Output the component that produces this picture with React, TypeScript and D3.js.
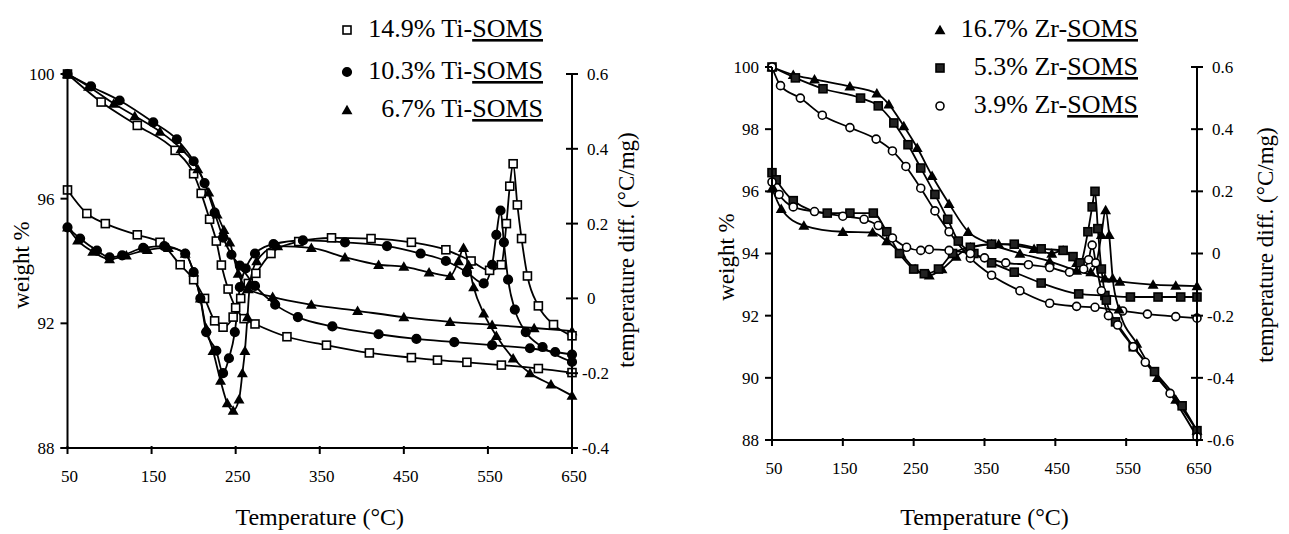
import React, { useRef, useEffect } from 'react';
import * as d3 from 'd3';

// ---- shared axis values ----
const tempTicks = [50, 150, 250, 350, 450, 550, 650];

// ---- Ti-SOMS panel ----
const tiWeightTicks = [100, 96, 92, 88];
const tiDiffTicks = [0.6, 0.4, 0.2, 0, -0.2, -0.4];
const tiLegend = ['14.9% Ti-', '10.3% Ti-', '6.7% Ti-'];

// TGA (weight %)
const ti149TgaT = [50, 90, 133, 178, 200, 209, 219, 227, 233, 241, 250, 260, 273, 311, 358, 409, 459, 490, 525, 566, 610, 650];
const ti149TgaW = [100, 99.1, 98.35, 97.55, 96.8, 96.17, 95.34, 94.64, 93.87, 93.1, 92.5, 92.15, 91.98, 91.57, 91.3, 91.05, 90.9, 90.82, 90.75, 90.66, 90.55, 90.42];
const ti103TgaT = [50, 78, 112, 152, 180, 200, 213, 225, 235, 245, 255, 273, 297, 324, 365, 420, 465, 510, 555, 600, 630, 650];
const ti103TgaW = [100, 99.6, 99.15, 98.45, 97.9, 97.2, 96.5, 95.55, 94.75, 94.2, 93.85, 93.2, 92.6, 92.2, 91.9, 91.65, 91.5, 91.4, 91.3, 91.2, 91.08, 91.0];
const ti67TgaT = [50, 75, 105, 130, 160, 185, 205, 218, 228, 236, 243, 253, 265, 294, 340, 395, 450, 505, 555, 605, 650];
const ti67TgaW = [100, 99.6, 99.05, 98.65, 98.15, 97.6, 96.95, 96.2, 95.5, 95.0, 94.6, 93.6, 93.1, 92.85, 92.6, 92.4, 92.2, 92.05, 91.95, 91.85, 91.75];

// DTA (temperature diff.)
const ti149DtaT = [50, 73, 95, 133, 160, 184, 200, 213, 225, 235, 247, 256, 265, 274, 292, 325, 364, 411, 459, 500, 530, 552, 566, 572, 576, 580, 585, 590, 597, 610, 628, 650];
const ti149DtaD = [0.29, 0.227, 0.2, 0.17, 0.15, 0.09, 0.05, 0.0, -0.06, -0.077, -0.05, 0.0, 0.04, 0.067, 0.12, 0.152, 0.162, 0.16, 0.15, 0.13, 0.1, 0.075, 0.09, 0.2, 0.3, 0.36, 0.25, 0.16, 0.06, -0.02, -0.07, -0.1];
const ti103DtaT = [50, 65, 85, 100, 115, 140, 165, 190, 200, 208, 215, 227, 235, 242, 249, 255, 262, 273, 295, 330, 380, 430, 470, 500, 525, 545, 555, 560, 565, 569, 574, 582, 595, 615, 650];
const ti103DtaD = [0.19, 0.16, 0.128, 0.11, 0.115, 0.135, 0.14, 0.12, 0.07, 0.0, -0.09, -0.14, -0.2, -0.16, -0.09, 0.03, 0.08, 0.12, 0.145, 0.155, 0.15, 0.14, 0.12, 0.1, 0.07, 0.04, 0.09, 0.17, 0.235, 0.15, 0.05, -0.03, -0.09, -0.13, -0.17];
const ti67DtaT = [50, 62, 80, 100, 120, 145, 170, 190, 200, 208, 215, 223, 232, 240, 247, 254, 258, 261, 264, 267, 275, 300, 340, 380, 420, 450, 480, 505, 515, 521, 527, 533, 545, 560, 580, 600, 625, 650];
const ti67DtaD = [0.19, 0.155, 0.125, 0.105, 0.115, 0.13, 0.135, 0.12, 0.07, 0.0, -0.08, -0.14, -0.22, -0.28, -0.3, -0.27, -0.2, -0.14, -0.05, 0.04, 0.1, 0.14, 0.135, 0.11, 0.09, 0.085, 0.07, 0.06, 0.1, 0.135, 0.09, 0.03, -0.04, -0.1, -0.16, -0.2, -0.23, -0.26];

// ---- Zr-SOMS panel ----
const zrWeightTicks = [100, 98, 96, 94, 92, 90, 88];
const zrDiffTicks = [0.6, 0.4, 0.2, 0, -0.2, -0.4, -0.6];
const zrLegend = ['16.7% Zr-', '5.3% Zr-', '3.9% Zr-'];

const zr167TgaT = [50, 80, 110, 160, 198, 215, 236, 255, 276, 300, 327, 360, 400, 442, 480, 520, 541, 588, 620, 650];
const zr167TgaW = [100, 99.75, 99.6, 99.38, 99.15, 98.8, 98.1, 97.4, 96.5, 95.6, 94.7, 94.3, 94.0, 93.75, 93.45, 93.2, 93.1, 93.0, 92.97, 92.95];
const zr53TgaT = [50, 83, 122, 175, 200, 222, 242, 260, 280, 298, 313, 335, 360, 392, 430, 483, 520, 556, 595, 627, 650];
const zr53TgaW = [100, 99.65, 99.3, 99.0, 98.75, 98.2, 97.5, 96.75, 95.9, 95.1, 94.4, 94.0, 93.7, 93.4, 93.05, 92.7, 92.65, 92.6, 92.6, 92.6, 92.6];
const zr39TgaT = [50, 62, 90, 121, 160, 197, 220, 239, 260, 280, 300, 330, 360, 400, 442, 480, 506, 545, 580, 620, 650];
const zr39TgaW = [100, 99.4, 99.0, 98.45, 98.05, 97.68, 97.3, 96.8, 96.1, 95.37, 94.7, 93.85, 93.3, 92.8, 92.4, 92.3, 92.27, 92.15, 92.05, 91.97, 91.92];

const zr167DtaT = [50, 63, 95, 150, 192, 212, 232, 252, 272, 290, 310, 330, 370, 420, 445, 461, 480, 500, 508, 515, 521, 526, 531, 540, 565, 594, 620, 650];
const zr167DtaD = [0.21, 0.144, 0.09, 0.07, 0.068, 0.04, 0.0, -0.05, -0.07, -0.05, -0.01, 0.02, 0.03, 0.015, 0.0, 0.01, -0.03, -0.06, -0.03, 0.06, 0.14, 0.06, -0.08, -0.18, -0.29, -0.4, -0.47, -0.57];
const zr53DtaT = [50, 56, 80, 128, 160, 193, 212, 230, 250, 265, 285, 305, 330, 360, 392, 430, 461, 475, 485, 496, 502, 506, 510, 515, 522, 535, 560, 590, 629, 650];
const zr53DtaD = [0.26, 0.237, 0.17, 0.13, 0.13, 0.13, 0.07, 0.0, -0.05, -0.065, -0.05, 0.0, 0.02, 0.03, 0.03, 0.015, 0.01, -0.01, -0.03, 0.07, 0.15, 0.2, 0.08, -0.05, -0.15, -0.22, -0.3, -0.38, -0.49, -0.57];
const zr39DtaT = [50, 60, 80, 110, 150, 180, 200, 220, 240, 260, 272, 300, 330, 350, 380, 412, 442, 470, 490, 497, 502, 507, 515, 525, 538, 560, 577, 612, 650];
const zr39DtaD = [0.23, 0.19, 0.15, 0.135, 0.12, 0.11, 0.09, 0.05, 0.02, 0.01, 0.013, 0.01, 0.0, -0.014, -0.03, -0.036, -0.045, -0.06, -0.05, -0.02, 0.027, -0.03, -0.12, -0.2, -0.23, -0.3, -0.35, -0.45, -0.59];

const FONT = '"Liberation Serif", "Times New Roman", serif';

const zip = (t, v) => t.map((d, i) => [d, v[i]]);

const drawMarker = (g, kind, cx, cy) => {
    if (kind === 'sqOpen' || kind === 'sqFill') {
        g.append('rect')
            .attr('x', cx - 4).attr('y', cy - 4)
            .attr('width', 8).attr('height', 8)
            .attr('fill', kind === 'sqOpen' ? 'white' : '#222')
            .attr('stroke', 'black').attr('stroke-width', 1.6);
    } else if (kind === 'circFill' || kind === 'circOpen') {
        g.append('circle')
            .attr('cx', cx).attr('cy', cy).attr('r', kind === 'circFill' ? 4.3 : 4)
            .attr('fill', kind === 'circFill' ? 'black' : 'white')
            .attr('stroke', 'black').attr('stroke-width', 1.6);
    } else {
        g.append('path')
            .attr('d', d3.symbol(d3.symbolTriangle).size(52)())
            .attr('transform', `translate(${cx},${cy + 1})`)
            .attr('fill', 'black');
    }
};

const drawPanel = (svg, p) => {
    const x = d3.scaleLinear().domain([50, 650]).range([p.x0, p.x1]);
    const yW = d3.scaleLinear().domain([p.wMin, 100]).range([p.yBottom, p.yTop]);
    const yD = d3.scaleLinear().domain([p.dMin, 0.6]).range([p.yBottom, p.yTop]);
    const g = svg.append('g');

    // series lines, then markers on top
    const line = d3.line().curve(d3.curveMonotoneX);
    p.series.forEach(s => {
        const y = s.axis === 'w' ? yW : yD;
        g.append('path')
            .attr('d', line(s.pts.map(d => [x(d[0]), y(d[1])])))
            .attr('fill', 'none')
            .attr('stroke', 'black')
            .attr('stroke-width', 1.8);
    });
    p.series.forEach(s => {
        const y = s.axis === 'w' ? yW : yD;
        s.pts.forEach(d => drawMarker(g, s.marker, x(d[0]), y(d[1])));
    });

    // axes
    const ax = g.append('g').attr('stroke', 'black').attr('stroke-width', 2);
    ax.append('line').attr('x1', p.x0).attr('x2', p.x0).attr('y1', p.yTop).attr('y2', p.yBottom);
    ax.append('line').attr('x1', p.x1).attr('x2', p.x1).attr('y1', p.yTop).attr('y2', p.yBottom);
    ax.append('line').attr('x1', p.x0 - 7).attr('x2', p.x1 + 6).attr('y1', p.yBottom).attr('y2', p.yBottom);

    p.wTicks.forEach(v => {
        ax.append('line').attr('x1', p.x0 - 7).attr('x2', p.x0).attr('y1', yW(v)).attr('y2', yW(v));
        g.append('text').attr('x', p.x0 - 13).attr('y', yW(v)).attr('dy', '0.35em')
            .attr('text-anchor', 'end').attr('font-size', 17).attr('font-family', FONT)
            .text(v);
    });
    p.dTicks.forEach(v => {
        ax.append('line').attr('x1', p.x1 - 6).attr('x2', p.x1 + 6).attr('y1', yD(v)).attr('y2', yD(v));
        g.append('text').attr('x', p.x1 + (v < 0 ? 10 : 15)).attr('y', yD(v)).attr('dy', '0.35em')
            .attr('font-size', 17).attr('font-family', FONT)
            .text(String(v));
    });
    tempTicks.forEach(v => {
        ax.append('line').attr('x1', x(v)).attr('x2', x(v)).attr('y1', p.yBottom - 2).attr('y2', p.yBottom + 6);
        g.append('text').attr('x', x(v) + 2).attr('y', p.yBottom + 34)
            .attr('text-anchor', 'middle').attr('font-size', 17).attr('font-family', FONT)
            .text(v);
    });

    // axis titles
    g.append('text').attr('x', (p.x0 + p.x1) / 2).attr('y', 525)
        .attr('text-anchor', 'middle').attr('font-size', 24).attr('font-family', FONT)
        .text('Temperature (°C)');
    g.append('text').attr('transform', `translate(${p.wLabelX},${p.wLabelY}) rotate(-90)`)
        .attr('text-anchor', 'middle').attr('font-size', 23).attr('font-family', FONT)
        .text('weight %');
    g.append('text').attr('transform', `translate(${p.dLabelX},${p.dLabelY}) rotate(-90)`)
        .attr('text-anchor', 'middle').attr('font-size', 23).attr('font-family', FONT)
        .text('temperature diff. (°C/mg)');

    // legend
    p.legend.forEach((lab, i) => {
        const ly = p.legendY[i];
        drawMarker(g, p.legendMarkers[i], p.legendMarkX, ly - 7);
        const t = g.append('text').attr('x', p.legendTextEnd).attr('y', ly)
            .attr('text-anchor', 'end').attr('font-size', 26).attr('font-family', FONT);
        t.append('tspan').text(lab);
        t.append('tspan').attr('text-decoration', 'underline').text('SOMS');
    });
};

const App = () => {
    const svgRef = useRef(null);

    useEffect(() => {
        const svg = d3.select(svgRef.current);
        svg.selectAll('*').remove();

        drawPanel(svg, {
            x0: 67.5, x1: 572, yTop: 74, yBottom: 448,
            wMin: 88, dMin: -0.4,
            wTicks: tiWeightTicks, dTicks: tiDiffTicks,
            wLabelX: 29, wLabelY: 265, dLabelX: 634, dLabelY: 250,
            legend: tiLegend, legendMarkers: ['sqOpen', 'circFill', 'triFill'],
            legendY: [37, 79, 117], legendMarkX: 347, legendTextEnd: 543,
            series: [
                { pts: zip(ti149TgaT, ti149TgaW), axis: 'w', marker: 'sqOpen' },
                { pts: zip(ti103TgaT, ti103TgaW), axis: 'w', marker: 'circFill' },
                { pts: zip(ti67TgaT, ti67TgaW), axis: 'w', marker: 'triFill' },
                { pts: zip(ti149DtaT, ti149DtaD), axis: 'd', marker: 'sqOpen' },
                { pts: zip(ti103DtaT, ti103DtaD), axis: 'd', marker: 'circFill' },
                { pts: zip(ti67DtaT, ti67DtaD), axis: 'd', marker: 'triFill' },
            ],
        });

        drawPanel(svg, {
            x0: 772, x1: 1197, yTop: 67, yBottom: 440,
            wMin: 88, dMin: -0.6,
            wTicks: zrWeightTicks, dTicks: zrDiffTicks,
            wLabelX: 734, wLabelY: 257, dLabelX: 1273, dLabelY: 245,
            legend: zrLegend, legendMarkers: ['triFill', 'sqFill', 'circOpen'],
            legendY: [37, 75, 113], legendMarkX: 940, legendTextEnd: 1138,
            series: [
                { pts: zip(zr167TgaT, zr167TgaW), axis: 'w', marker: 'triFill' },
                { pts: zip(zr53TgaT, zr53TgaW), axis: 'w', marker: 'sqFill' },
                { pts: zip(zr39TgaT, zr39TgaW), axis: 'w', marker: 'circOpen' },
                { pts: zip(zr167DtaT, zr167DtaD), axis: 'd', marker: 'triFill' },
                { pts: zip(zr53DtaT, zr53DtaD), axis: 'd', marker: 'sqFill' },
                { pts: zip(zr39DtaT, zr39DtaD), axis: 'd', marker: 'circOpen' },
            ],
        });
    }, []);

    return (
        <svg ref={svgRef} width={1289} height={534}
            style={{ position: 'absolute', left: 0, top: 0, background: 'white' }} />
    );
};

export default App;
